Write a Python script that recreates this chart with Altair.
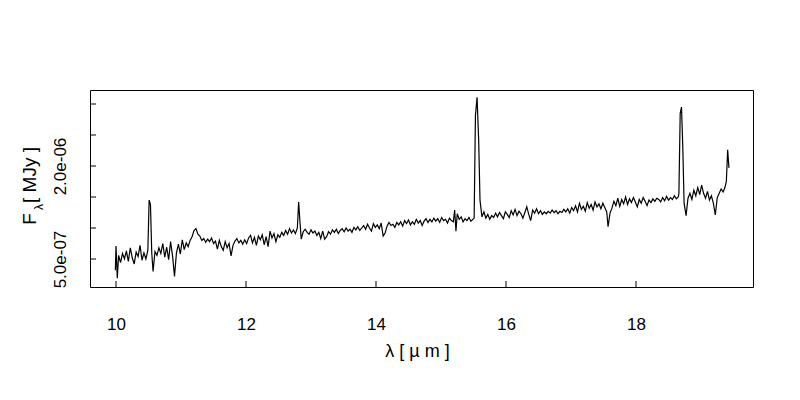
import altair as alt
import pandas as pd

# wavelength [micron]
wavelength = [
    9.99, 10.00, 10.02, 10.04, 10.07, 10.10, 10.13, 10.16, 10.19, 10.22,
    10.25, 10.28, 10.31, 10.34, 10.37, 10.40, 10.43, 10.46, 10.49, 10.51,
    10.53, 10.55, 10.57, 10.60, 10.63, 10.66, 10.69, 10.72, 10.75, 10.78,
    10.81, 10.84, 10.87, 10.90, 10.93, 10.96, 10.99, 11.02, 11.05, 11.08,
    11.11, 11.14, 11.17, 11.20, 11.23, 11.26, 11.29, 11.32, 11.35, 11.38,
    11.41, 11.44, 11.47, 11.50, 11.53, 11.56, 11.59, 11.62, 11.65, 11.68,
    11.71, 11.74, 11.77, 11.80, 11.83, 11.86, 11.89, 11.92, 11.95, 11.98,
    12.01, 12.04, 12.07, 12.10, 12.13, 12.16, 12.19, 12.22, 12.25, 12.28,
    12.31, 12.34, 12.37, 12.40, 12.43, 12.46, 12.49, 12.52, 12.55, 12.58,
    12.61, 12.64, 12.67, 12.70, 12.73, 12.76, 12.79, 12.81, 12.83, 12.85,
    12.88, 12.91, 12.94, 12.97, 13.00, 13.03, 13.06, 13.09, 13.12, 13.15,
    13.18, 13.21, 13.24, 13.27, 13.30, 13.33, 13.36, 13.39, 13.42, 13.45,
    13.48, 13.51, 13.54, 13.57, 13.60, 13.63, 13.66, 13.69, 13.72, 13.75,
    13.78, 13.81, 13.84, 13.87, 13.90, 13.93, 13.96, 13.99, 14.02, 14.05,
    14.08, 14.11, 14.14, 14.17, 14.20, 14.23, 14.26, 14.29, 14.32, 14.35,
    14.38, 14.41, 14.44, 14.47, 14.50, 14.53, 14.56, 14.59, 14.62, 14.65,
    14.68, 14.71, 14.74, 14.77, 14.80, 14.83, 14.86, 14.89, 14.92, 14.95,
    14.98, 15.01, 15.04, 15.07, 15.10, 15.13, 15.16, 15.19, 15.21, 15.23,
    15.25, 15.28, 15.31, 15.34, 15.37, 15.40, 15.43, 15.46, 15.49, 15.51,
    15.53, 15.555, 15.58, 15.60, 15.63, 15.66, 15.69, 15.72, 15.75, 15.78,
    15.81, 15.84, 15.87, 15.90, 15.93, 15.96, 15.99, 16.02, 16.05, 16.08,
    16.11, 16.14, 16.17, 16.20, 16.23, 16.26, 16.29, 16.32, 16.35, 16.38,
    16.41, 16.44, 16.47, 16.50, 16.53, 16.56, 16.59, 16.62, 16.65, 16.68,
    16.71, 16.74, 16.77, 16.80, 16.83, 16.86, 16.89, 16.92, 16.95, 16.98,
    17.01, 17.04, 17.07, 17.10, 17.13, 17.16, 17.19, 17.22, 17.25, 17.28,
    17.31, 17.34, 17.37, 17.40, 17.43, 17.46, 17.49, 17.52, 17.55, 17.57,
    17.60, 17.63, 17.66, 17.69, 17.72, 17.75, 17.78, 17.81, 17.84, 17.87,
    17.90, 17.93, 17.96, 17.99, 18.02, 18.05, 18.08, 18.11, 18.14, 18.17,
    18.20, 18.23, 18.26, 18.29, 18.32, 18.35, 18.38, 18.41, 18.44, 18.47,
    18.50, 18.53, 18.56, 18.59, 18.62, 18.65, 18.66, 18.68, 18.70, 18.72,
    18.74, 18.77, 18.80, 18.83, 18.86, 18.89, 18.92, 18.95, 18.98, 19.01,
    19.04, 19.07, 19.10, 19.13, 19.16, 19.19, 19.22, 19.25, 19.28, 19.31,
    19.34, 19.37, 19.39, 19.41, 19.43,
]

# flux density in units of 1e-7 MJy
flux_e7 = [
    3.2, 7.1, 1.9, 5.6, 4.4, 5.9, 5.0, 6.3, 4.6, 6.8,
    5.2, 4.2, 6.1, 5.4, 7.2, 4.8, 6.0, 5.0, 6.4, 14.5,
    13.8, 6.0, 3.0, 6.2, 5.6, 6.8, 5.9, 7.5, 5.3, 6.9,
    4.9, 7.8, 5.5, 2.2, 6.0, 7.4, 5.8, 8.1, 6.5, 7.6,
    7.0, 8.0, 8.6, 9.6, 9.9, 9.0, 8.7, 8.0, 8.3, 7.7,
    8.2, 7.8, 8.4, 7.5, 7.9, 6.6, 8.0, 7.0, 6.4, 7.8,
    6.8, 7.5, 5.5, 7.2, 7.9, 8.3, 7.6, 8.0, 7.4, 8.1,
    7.5, 8.4, 8.8, 7.6, 8.5, 7.2, 8.7, 8.1, 8.9, 7.3,
    8.6, 7.0, 9.5, 8.4, 9.1, 7.8, 8.9, 8.5, 9.3, 8.8,
    9.6, 9.0, 9.9, 9.2, 9.7, 9.1, 10.0, 14.2, 11.0, 8.2,
    9.4, 9.8, 9.3, 9.0, 9.7, 9.2, 9.5, 8.8, 9.3, 8.3,
    9.5, 8.2, 8.6, 9.4, 9.0, 9.7, 9.3, 9.8, 9.1, 9.6,
    9.9, 9.4, 10.0, 9.5, 9.8, 9.3, 10.1, 9.7, 10.2, 9.6,
    10.0, 10.4, 9.8, 10.6, 10.0, 9.5, 10.7, 10.1, 10.5, 9.9,
    10.8, 8.7, 9.2, 10.3, 10.9, 10.4, 10.6, 10.1, 10.9, 10.5,
    11.0, 10.3, 11.2, 10.7, 11.3, 10.5, 11.0, 10.6, 11.4, 10.8,
    11.2, 10.4, 11.1, 11.5, 10.9, 11.4, 11.0, 11.6, 11.1, 11.5,
    10.9, 11.7, 11.2, 11.4, 10.8, 11.6, 11.2, 11.0, 12.9, 9.5,
    12.3, 11.4, 11.8, 11.0, 11.5, 11.2, 11.7, 11.1, 11.4, 11.6,
    28.2, 31.1, 24.0, 14.5, 11.8, 12.6, 11.6, 12.2, 11.4, 12.0,
    11.7, 12.4, 11.8, 12.5, 12.0, 11.5, 12.6, 12.2, 11.7, 12.8,
    12.1, 13.0, 12.0, 12.7, 12.3, 11.6, 12.5, 13.4, 12.2, 11.2,
    12.9, 12.4, 13.1, 12.3, 12.8, 12.2, 12.6, 12.3, 12.7, 12.4,
    12.9, 12.5, 12.8, 12.3, 12.7, 12.5, 13.0, 12.6, 13.1, 12.4,
    13.3, 12.8, 13.6, 12.6, 14.0, 13.0, 13.5, 12.7, 14.1, 13.2,
    13.8, 12.9, 14.2, 13.4, 13.9, 13.1, 14.0, 13.3, 12.6, 10.2,
    12.4, 13.2, 14.3, 13.6, 14.8, 13.5, 14.6, 13.9, 15.0, 13.8,
    14.7, 14.1, 14.9, 14.2, 13.4, 14.6, 14.0, 14.9, 14.3, 13.6,
    14.5, 14.1, 14.7, 14.3, 14.8, 14.6, 14.2, 14.9, 14.4, 15.1,
    14.5, 14.9, 14.6, 15.2, 14.7, 15.0, 15.5, 28.5, 29.5, 23.0,
    14.0, 12.0, 14.8, 15.6, 14.6, 16.1, 15.2, 16.5, 15.4, 16.9,
    15.6, 14.8, 15.9, 14.5, 15.2, 14.0, 12.1, 14.9, 15.6, 16.3,
    15.8, 16.6, 17.5, 22.6, 19.7,
]

# axis ticks
x_tick_values = [10, 12, 14, 16, 18]
y_tick_values = [5e-7, 1e-6, 1.5e-6, 2e-6, 2.5e-6, 3e-6]
y_label_values = [5e-7, 2e-6]

x_domain = [9.6, 19.8]
y_domain = [4.84e-8, 3.226e-6]

W, H = 663, 197
FONT = "Liberation Sans"
FS = 17

df = pd.DataFrame({"wl": wavelength, "flux": [v * 1e-7 for v in flux_e7]})

xscale = alt.Scale(domain=x_domain, nice=False, zero=False)
yscale = alt.Scale(domain=y_domain, nice=False, zero=False)

line = alt.Chart(df).mark_line(color="black", strokeWidth=1.2, clip=True).encode(
    x=alt.X("wl:Q", scale=xscale,
            axis=alt.Axis(values=x_tick_values, title=None, domain=False, ticks=False,
                          tickSize=0, grid=False, labelPadding=29, labelFont=FONT,
                          labelFontSize=FS, labelColor="black", format="d")),
    y=alt.Y("flux:Q", scale=yscale,
            axis=alt.Axis(values=y_label_values, title=None, domain=False, ticks=False,
                          tickSize=0, grid=False, labelAngle=270, labelAlign="center",
                          labelBaseline="bottom", labelPadding=21, labelFont=FONT,
                          labelFontSize=FS, labelColor="black",
                          labelExpr="replace(format(datum.value, '.1e'), 'e-', 'e-0')")),
)

yticks = alt.Chart(pd.DataFrame({"v": y_tick_values})).mark_rule(color="black", strokeWidth=1).encode(
    y=alt.Y("v:Q", scale=yscale),
    x=alt.value(0), x2=alt.value(6),
)

xticks = alt.Chart(pd.DataFrame({"v": x_tick_values})).mark_rule(color="black", strokeWidth=1).encode(
    x=alt.X("v:Q", scale=xscale),
    y=alt.value(H), y2=alt.value(H - 6),
)

xtitle = alt.Chart(pd.DataFrame({"t": ["λ [ µ m ]"]})).mark_text(
    font=FONT, fontSize=FS + 1, color="black", align="center", baseline="middle"
).encode(text="t:N", x=alt.value(W / 2 - 4), y=alt.value(H + 65))

ytitle_main = alt.Chart(pd.DataFrame({"t": ["F"]})).mark_text(
    font=FONT, fontSize=FS + 2, color="black", align="center", baseline="middle", angle=270
).encode(text="t:N", x=alt.value(-60), y=alt.value(129))

ytitle_sub = alt.Chart(pd.DataFrame({"t": ["λ"]})).mark_text(
    font=FONT, fontSize=12, color="black", align="center", baseline="middle", angle=270
).encode(text="t:N", x=alt.value(-51), y=alt.value(117))

ytitle_unit = alt.Chart(pd.DataFrame({"t": ["[ MJy ]"]})).mark_text(
    font=FONT, fontSize=FS + 2, color="black", align="center", baseline="middle", angle=270
).encode(text="t:N", x=alt.value(-60), y=alt.value(85))

chart = alt.layer(line, yticks, xticks, xtitle, ytitle_main, ytitle_sub, ytitle_unit).properties(
    width=W, height=H,
    autosize=alt.AutoSizeParams(type="none"),
    padding={"left": 82, "top": 82, "right": 39, "bottom": 105},
    background="white",
).configure_view(stroke="black", strokeWidth=1)

chart.save("out.html", embed_options={"renderer": "svg", "actions": False})
